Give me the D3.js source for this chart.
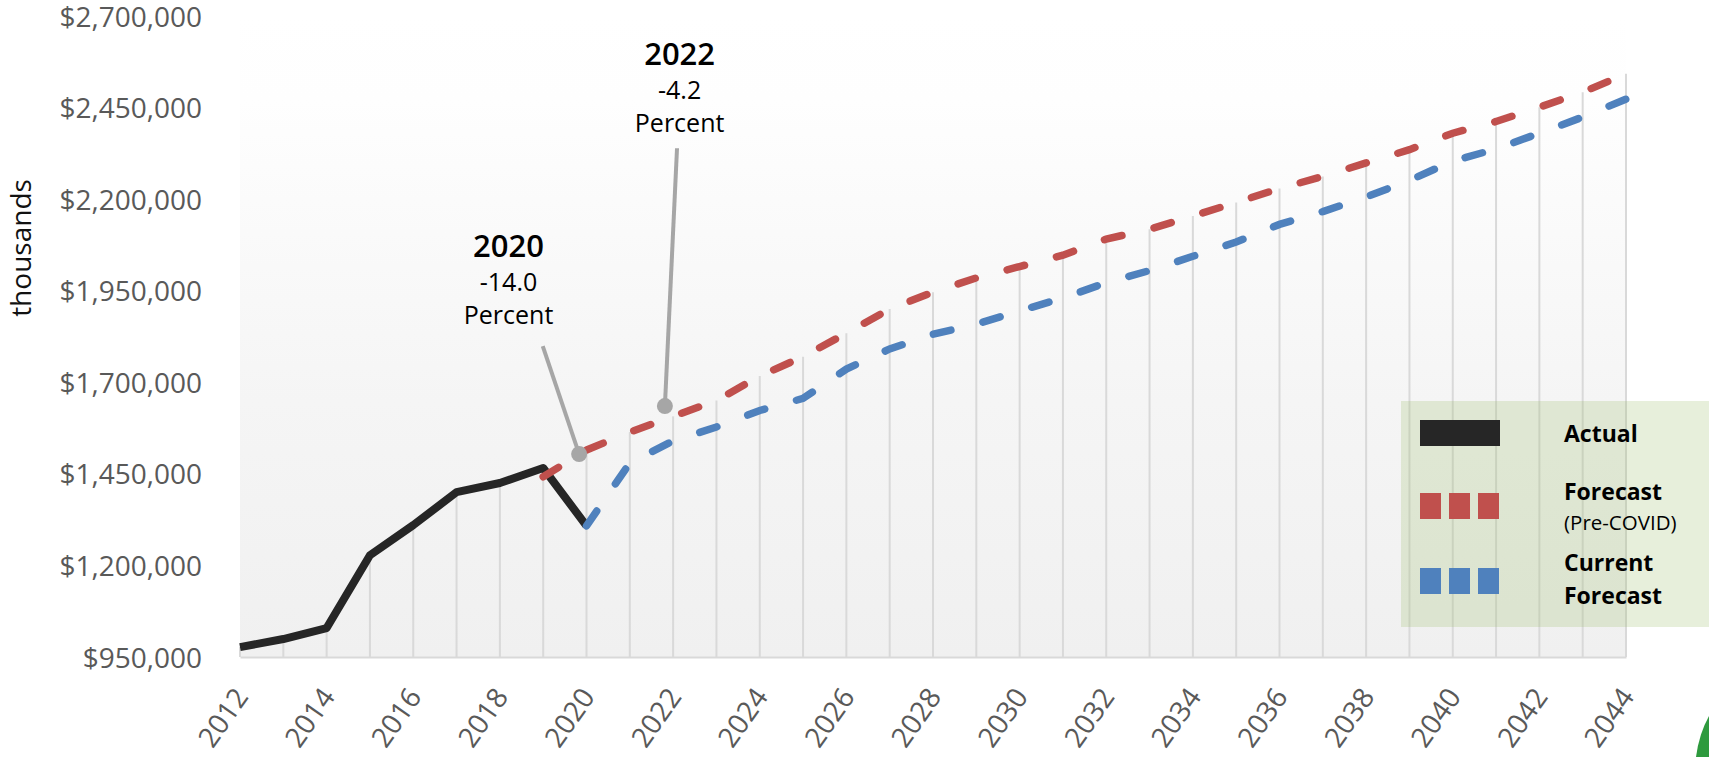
<!DOCTYPE html>
<html>
<head>
<meta charset="utf-8">
<script src="https://cdn.jsdelivr.net/npm/d3@7"></script>
<style>
  body { margin: 0; background: #fff; }
  svg { display: block; font-family: "Open Sans", sans-serif; }
</style>
</head>
<body>
<svg></svg>
<script>
// values are in thousands of dollars
const actualYears = d3.range(2012, 2021)
const actualValues = [977000, 999000, 1029000, 1228000, 1310000, 1400000, 1425000, 1466000, 1308000]

const preCovidYears = d3.range(2019, 2045)
const preCovidValues = [1442000, 1515000, 1564000, 1607000, 1650000, 1717000, 1770000, 1834000, 1900000,
  1946000, 1985000, 2016000, 2047000, 2091000, 2118000, 2154000, 2191000, 2229000, 2262000,
  2299000, 2335000, 2380000, 2412000, 2451000, 2492000, 2542000]

const currentYears = d3.range(2020, 2045)
const currentValues = [1308000, 1480000, 1540000, 1578000, 1623000, 1656000, 1736000, 1791000, 1831000,
  1859000, 1895000, 1930000, 1972000, 2005000, 2044000, 2083000, 2131000, 2166000,
  2206000, 2251000, 2304000, 2337000, 2380000, 2424000, 2473000]

const yTicks = [950000, 1200000, 1450000, 1700000, 1950000, 2200000, 2450000, 2700000]
const xTicks = d3.range(2012, 2045, 2)

// callouts: title, change and the points they hang from (year, value)
const callouts = [
  { title: '2020', change: '-14.0', unit: 'Percent', text: [2018.2, 2042000], from: [2018.99, 1799000], dot: [2019.83, 1504000] },
  { title: '2022', change: '-4.2', unit: 'Percent', text: [2022.15, 2566000], from: [2022.09, 2339000], dot: [2021.81, 1635000] }
]

const legendItems = ['Actual', 'Forecast', 'Current']

const svg = d3.select('svg')
  .attr('width', 1709)
  .attr('height', 757)

const x = d3.scaleLinear().domain([2012, 2044]).range([240, 1626])
const y = d3.scaleLinear().domain([950000, 2700000]).range([657, 16])

const toPoints = (years, values) => years.map((yr, i) => ({ year: yr, value: values[i] }))
const actual = toPoints(actualYears, actualValues)
const preCovid = toPoints(preCovidYears, preCovidValues)
const current = toPoints(currentYears, currentValues)

// plot background, a soft gradient from white to light gray
const defs = svg.append('defs')
const grad = defs.append('linearGradient')
  .attr('id', 'plotBg')
  .attr('x1', 0).attr('y1', 0).attr('x2', 0).attr('y2', 1)
grad.append('stop').attr('offset', '0%').attr('stop-color', '#ffffff')
grad.append('stop').attr('offset', '13%').attr('stop-color', '#fefefe')
grad.append('stop').attr('offset', '60%').attr('stop-color', '#f5f5f5')
grad.append('stop').attr('offset', '100%').attr('stop-color', '#f0f0f0')

svg.append('rect')
  .attr('x', x(2012))
  .attr('y', y(2700000))
  .attr('width', x(2044) - x(2012))
  .attr('height', y(950000) - y(2700000))
  .attr('fill', 'url(#plotBg)')

// drop lines: from the axis up to the highest series at each year
const allYears = d3.range(2012, 2045)
const topAt = yr => d3.max([actual, preCovid, current], s => {
  const p = s.find(d => d.year === yr)
  return p ? p.value : undefined
})

svg.append('g')
  .selectAll('line')
  .data(allYears)
  .enter()
  .append('line')
  .attr('x1', d => x(d))
  .attr('x2', d => x(d))
  .attr('y1', y(950000))
  .attr('y2', d => y(topAt(d)))
  .attr('stroke', '#d9d9d9')
  .attr('stroke-width', 2)

// y axis labels
const yAxis = svg.append('g')
  .attr('transform', `translate(${x(2012)},0)`)
  .call(d3.axisLeft(y).tickValues(yTicks).tickFormat(d3.format('$,')).tickSize(0).tickPadding(38))
yAxis.select('.domain').remove()
yAxis.selectAll('text')
  .attr('font-family', '"Open Sans", sans-serif')
  .attr('font-size', 28)
  .attr('dy', '0.36em')
  .attr('fill', '#595959')

// x axis
const xAxis = svg.append('g')
  .attr('transform', `translate(0,${y(950000)})`)
  .call(d3.axisBottom(x).tickValues(xTicks).tickFormat(d3.format('d')).tickSize(0))
xAxis.select('.domain')
  .attr('stroke', '#d9d9d9')
  .attr('stroke-width', 2)
xAxis.selectAll('text')
  .attr('font-family', '"Open Sans", sans-serif')
  .attr('font-size', 28)
  .attr('fill', '#595959')
  .attr('text-anchor', 'end')
  .attr('dy', 0)
  .attr('y', 0)
  .attr('transform', 'translate(9,40) rotate(-55)')

svg.append('text')
  .attr('transform', 'translate(31,248) rotate(-90)')
  .attr('text-anchor', 'middle')
  .attr('font-size', 28)
  .attr('fill', '#111')
  .text('thousands')

// series
const line = d3.line()
  .x(d => x(d.year))
  .y(d => y(d.value))

svg.append('path')
  .datum(actual)
  .attr('d', line)
  .attr('fill', 'none')
  .attr('stroke', '#262626')
  .attr('stroke-width', 8)
  .attr('stroke-linejoin', 'round')

svg.append('path')
  .datum(preCovid)
  .attr('d', line)
  .attr('fill', 'none')
  .attr('stroke', '#c0504d')
  .attr('stroke-width', 7.5)
  .attr('stroke-linecap', 'round')
  .attr('stroke-dasharray', '18,33')

svg.append('path')
  .datum(current)
  .attr('d', line)
  .attr('fill', 'none')
  .attr('stroke', '#4f81bd')
  .attr('stroke-width', 7.5)
  .attr('stroke-linecap', 'round')
  .attr('stroke-dasharray', '18,33')

// callouts
const callout = svg.append('g')
  .selectAll('g')
  .data(callouts)
  .enter()
  .append('g')

callout.append('line')
  .attr('x1', d => x(d.from[0]))
  .attr('y1', d => y(d.from[1]))
  .attr('x2', d => x(d.dot[0]))
  .attr('y2', d => y(d.dot[1]))
  .attr('stroke', '#a6a6a6')
  .attr('stroke-width', 4)

callout.append('circle')
  .attr('cx', d => x(d.dot[0]))
  .attr('cy', d => y(d.dot[1]))
  .attr('r', 8)
  .attr('fill', '#a6a6a6')

const calloutText = callout.append('text')
  .attr('text-anchor', 'middle')
  .attr('fill', '#000')
calloutText.append('tspan')
  .attr('x', d => x(d.text[0]))
  .attr('y', d => y(d.text[1]))
  .attr('font-size', 31)
  .attr('font-weight', 600)
  .text(d => d.title)
calloutText.append('tspan')
  .attr('x', d => x(d.text[0]))
  .attr('dy', 34)
  .attr('font-size', 25)
  .text(d => d.change)
calloutText.append('tspan')
  .attr('x', d => x(d.text[0]))
  .attr('dy', 33)
  .attr('font-size', 25)
  .text(d => d.unit)

// legend
const legend = svg.append('g').attr('transform', 'translate(1401,401)')
legend.append('rect')
  .attr('width', 308)
  .attr('height', 226)
  .attr('fill', 'rgb(160,190,110)')
  .attr('fill-opacity', 0.25)

legend.append('rect')
  .attr('x', 19).attr('y', 19)
  .attr('width', 80).attr('height', 26)
  .attr('fill', '#262626')

const swatchColors = { Forecast: '#c0504d', Current: '#4f81bd' }
const swatchTop = { Forecast: 92, Current: 167 }
legend.selectAll('.sq')
  .data(legendItems.slice(1).flatMap(k => [0, 1, 2].map(i => ({ k, i }))))
  .enter()
  .append('rect')
  .attr('x', d => 19 + d.i * 29)
  .attr('y', d => swatchTop[d.k])
  .attr('width', 21)
  .attr('height', 26)
  .attr('fill', d => swatchColors[d.k])

const legendText = [
  { text: 'Actual', y: 41, size: 23, bold: true },
  { text: 'Forecast', y: 99, size: 23, bold: true },
  { text: '(Pre-COVID)', y: 129, size: 20.5, bold: false },
  { text: 'Current', y: 170, size: 23, bold: true },
  { text: 'Forecast', y: 203, size: 23, bold: true }
]
legend.selectAll('.lt')
  .data(legendText)
  .enter()
  .append('text')
  .attr('x', 163)
  .attr('y', d => d.y)
  .attr('font-size', d => d.size)
  .attr('font-weight', d => d.bold ? 700 : 400)
  .attr('fill', '#000')
  .text(d => d.text)

// corner of a green logo peeking in at the bottom right
svg.append('path')
  .attr('d', 'M1709,716 Q1699,734 1696,757 L1709,757 Z')
  .attr('fill', '#2e9a3e')
</script>
</body>
</html>
